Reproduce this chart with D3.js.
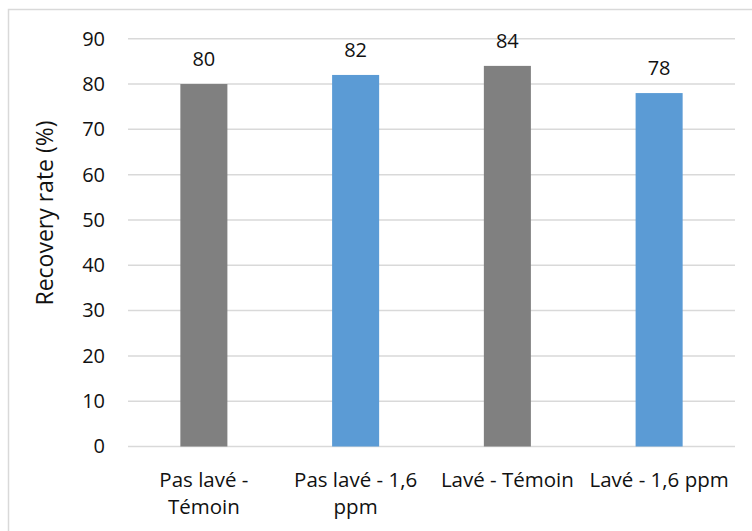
<!DOCTYPE html>
<html>
<head>
<meta charset="utf-8">
<script src="https://cdn.jsdelivr.net/npm/d3@7"></script>
<style>
  body { margin: 0; background: #fff; }
  text { font-family: "Open Sans", sans-serif; fill: #111; }
</style>
</head>
<body>
<script>
// chart data
const categories = ['Pas lavé - Témoin', 'Pas lavé - 1,6 ppm', 'Lavé - Témoin', 'Lavé - 1,6 ppm'];
const categoryLines = [['Pas lavé -', 'Témoin'], ['Pas lavé - 1,6', 'ppm'], ['Lavé - Témoin'], ['Lavé - 1,6 ppm']];
const values = [80, 82, 84, 78];
const barColors = ['#808080', '#5b9bd5', '#808080', '#5b9bd5'];
const yTicks = [0, 10, 20, 30, 40, 50, 60, 70, 80, 90];
const yTitle = 'Recovery rate (%)';

const W = 752, H = 531;
const plot = { left: 128, right: 735, top: 38.7, bottom: 446.5 };

const svg = d3.select('body').append('svg')
    .attr('width', W)
    .attr('height', H);

// outer chart border (cropped on right and bottom)
svg.append('rect')
    .attr('x', 8.5)
    .attr('y', 9.5)
    .attr('width', W + 10)
    .attr('height', H + 10)
    .attr('fill', 'none')
    .attr('stroke', '#d9d9d9')
    .attr('stroke-width', 1.5);

const x = d3.scaleBand()
    .domain(categories)
    .range([plot.left, plot.right])
    .padding(0);

const y = d3.scaleLinear()
    .domain([0, 90])
    .range([plot.bottom, plot.top]);

// gridlines
svg.append('g')
    .selectAll('line')
    .data(yTicks)
    .join('line')
    .attr('x1', plot.left)
    .attr('x2', plot.right)
    .attr('y1', d => y(d))
    .attr('y2', d => y(d))
    .attr('stroke', '#d9d9d9')
    .attr('stroke-width', 1.5);

// y axis labels
const yAxis = svg.append('g')
    .attr('transform', `translate(${plot.left},0)`)
    .call(d3.axisLeft(y).tickValues(yTicks).tickSize(0).tickPadding(23));
yAxis.select('.domain').remove();
yAxis.selectAll('text')
    .style('font-family', '"Open Sans", sans-serif')
    .style('font-size', '20px')
    .attr('fill', '#111');

// bars
const barW = x.bandwidth() * 0.31;
svg.append('g')
    .selectAll('rect')
    .data(values)
    .join('rect')
    .attr('x', (d, i) => x(categories[i]) + (x.bandwidth() - barW) / 2)
    .attr('y', d => y(d))
    .attr('width', barW)
    .attr('height', d => y(0) - y(d))
    .attr('fill', (d, i) => barColors[i]);

// value labels
svg.append('g')
    .selectAll('text')
    .data(values)
    .join('text')
    .attr('x', (d, i) => x(categories[i]) + x.bandwidth() / 2)
    .attr('y', d => y(d) - 18)
    .attr('text-anchor', 'middle')
    .style('font-size', '20px')
    .text(d => d);

// category labels
const cat = svg.append('g')
    .selectAll('text')
    .data(categoryLines)
    .join('text')
    .attr('text-anchor', 'middle')
    .style('font-size', '20.5px');
cat.selectAll('tspan')
    .data((d, i) => d.map(line => ({ line, i })))
    .join('tspan')
    .attr('x', d => x(categories[d.i]) + x.bandwidth() / 2)
    .attr('y', (d, j) => 486.5 + j * 27.8)
    .text(d => d.line);

// y axis title
svg.append('text')
    .attr('transform', 'translate(53,213) rotate(-90)')
    .attr('text-anchor', 'middle')
    .style('font-size', '23px')
    .text(yTitle);
</script>
</body>
</html>
